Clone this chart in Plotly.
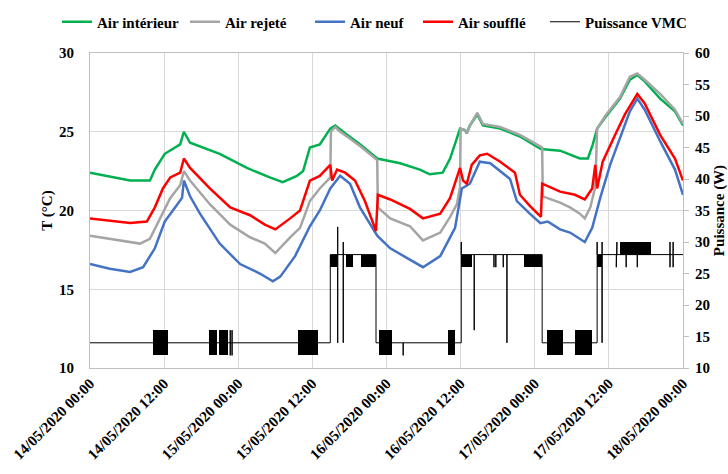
import pandas as pd
import plotly.graph_objects as go

START = pd.Timestamp("2020-05-14 00:00")

# ---------------- data (hours since 14/05/2020 00:00) ----------------
green_h = [0, 6.5, 9.7, 10.5, 12.1, 14.6, 15.2, 16.2, 21.0, 25.4, 29.1, 31.2, 33.5, 34.5, 35.6, 37.2, 38.9,
           39.7, 41.3, 43.7, 46.5, 50.2, 53.4, 55.0, 57.1, 58.3, 59.4, 59.9, 60.7, 61.0, 61.5, 62.7, 63.6,
           66.4, 69.6, 73.0, 76.1, 79.3, 80.6, 81.4, 82.1, 83.4, 85.8, 87.4, 88.6, 89.8, 92.3, 94.7, 96]
green_t = [22.4, 21.9, 21.9, 22.6, 23.6, 24.2, 25.0, 24.3, 23.6, 22.7, 22.1, 21.8, 22.2, 22.5, 24.0, 24.2, 25.2,
           25.4, 24.9, 24.2, 23.3, 23.0, 22.6, 22.3, 22.4, 23.3, 24.6, 25.2, 25.1, 24.9, 25.4, 26.1, 25.4,
           25.2, 24.7, 23.9, 23.8, 23.3, 23.3, 24.2, 25.2, 25.9, 27.1, 28.3, 28.6, 28.2, 27.1, 26.3, 25.4]

gray_h = [0, 6.5, 8.1, 9.7, 11.3, 13.0, 14.6, 15.2, 16.2, 19.4, 22.7, 25.9, 28.3, 30.0, 32.4, 34.0, 35.6,
          37.2, 38.9, 39.0, 39.7, 40.5, 41.6, 43.7, 46.5, 46.6, 48.6, 51.8, 53.9, 56.7, 58.3, 59.4, 59.9,
          60.0, 60.7, 61.0, 61.5, 62.7, 63.6, 66.4, 69.6, 73.2, 73.3, 76.1, 77.7, 79.3, 80.1, 81.0, 81.8,
          82.1, 83.4, 85.8, 87.4, 88.6, 89.8, 92.3, 94.7, 96]
gray_t = [18.4, 18.0, 17.9, 18.2, 19.5, 20.8, 21.6, 22.5, 21.9, 20.4, 19.1, 18.3, 17.9, 17.3, 18.3, 18.9, 20.6,
          21.4, 22.1, 25.0, 25.3, 25.0, 24.7, 24.1, 23.2, 20.2, 19.5, 19.0, 18.1, 18.6, 19.6, 20.4, 21.5,
          25.2, 25.1, 24.9, 25.4, 26.2, 25.5, 25.3, 24.8, 24.0, 20.9, 20.5, 20.2, 19.8, 19.5, 20.2, 21.5,
          25.2, 26.0, 27.2, 28.5, 28.7, 28.3, 27.4, 26.4, 25.5]

blue_h = [0, 3.2, 6.5, 8.6, 10.5, 12.1, 13.8, 14.9, 15.2, 16.2, 17.8, 21.0, 24.3, 27.5, 29.6, 30.8, 33.2,
          35.6, 37.2, 38.9, 40.5, 42.1, 43.7, 46.5, 48.6, 51.8, 53.9, 56.7, 59.1, 60.2, 61.5, 63.1, 64.8,
          68.0, 69.1, 71.2, 72.9, 74.1, 76.1, 77.7, 79.3, 80.1, 81.3, 82.6, 84.2, 85.8, 87.4, 88.6, 89.8,
          92.3, 94.7, 96]
blue_t = [16.6, 16.3, 16.1, 16.4, 17.6, 19.3, 20.2, 20.8, 21.9, 20.9, 19.8, 17.9, 16.6, 16.0, 15.5, 15.8, 17.1,
          19.0, 20.0, 21.4, 22.2, 21.7, 20.2, 18.4, 17.6, 16.9, 16.4, 17.1, 18.9, 21.4, 21.7, 23.1, 23.0,
          22.0, 20.6, 19.8, 19.2, 19.3, 18.8, 18.6, 18.2, 18.0, 18.9, 20.8, 22.9, 24.6, 26.3, 27.1, 26.4,
          24.4, 22.6, 21.0]

red_h = [0, 6.5, 9.2, 10.5, 11.8, 13.0, 14.6, 15.2, 16.2, 19.4, 22.7, 25.9, 28.3, 30.0, 32.4, 34.0, 35.6,
         37.2, 38.9, 39.2, 40.0, 41.3, 42.9, 44.5, 46.3, 46.6, 48.6, 51.8, 53.9, 56.7, 58.3, 59.9, 60.4,
         61.0, 61.8, 63.1, 64.3, 66.4, 68.8, 69.6, 71.2, 73.0, 73.2, 76.1, 78.5, 80.1, 81.3, 81.8, 82.1,
         83.0, 85.0, 86.6, 88.6, 89.8, 92.3, 94.7, 96]
red_t = [19.5, 19.2, 19.3, 20.2, 21.4, 22.1, 22.4, 23.3, 22.7, 21.4, 20.2, 19.7, 19.1, 18.8, 19.5, 20.0, 21.9,
         22.2, 22.9, 21.9, 22.6, 22.4, 21.9, 20.6, 18.7, 21.0, 20.7, 20.1, 19.5, 19.8, 20.8, 22.7, 21.9,
         21.7, 22.9, 23.5, 23.6, 23.1, 22.4, 21.0, 20.3, 19.6, 21.7, 21.2, 21.0, 20.7, 21.4, 22.9, 21.4,
         23.1, 24.8, 26.1, 27.4, 26.8, 24.8, 23.3, 21.9]

# VMC power: main trace (steps and isolated spikes)
power_h = [0, 22.7, 22.7, 22.7, 22.7, 23.0, 23.0, 23.0, 23.0, 38.9, 38.9,
           40.1, 40.1, 40.1, 40.1, 41.0, 41.0, 41.0, 41.0, 46.3, 46.3,
           50.7, 50.7, 50.7, 60.1, 60.1, 60.1,
           62.2, 62.2, 62.2, 65.4, 65.4, 65.4, 65.7, 65.7, 65.7, 66.9, 66.9, 66.9,
           67.5, 67.5, 67.5, 73.2, 73.2, 82.1, 82.1, 82.1,
           82.9, 82.9, 82.9, 82.9, 85.2, 85.2, 85.2, 85.3, 85.3, 85.3,
           86.8, 86.8, 86.8, 88.6, 88.6, 88.6,
           93.9, 93.9, 93.9, 93.9, 94.4, 94.4, 94.4, 94.4, 96]
power_w = [14, 14, 16, 12, 14, 14, 16, 12, 14, 14, 28,
           28, 32.4, 14, 28, 28, 30, 14, 28, 28, 14,
           14, 12, 14, 14, 30, 28,
           28, 16, 28, 28, 26, 28, 28, 26, 28, 28, 26, 28,
           28, 14, 28, 28, 14, 14, 30, 28,
           28, 30, 14, 28, 28, 26, 28, 28, 30, 28,
           28, 26, 28, 28, 26, 28,
           28, 30, 26, 28, 28, 30, 26, 28, 28]

# VMC power: periods of rapid oscillation (start h, end h, low W, high W)
block_start = [10.2, 19.3, 20.9, 33.6, 38.9, 41.5, 43.9, 46.8, 58.0, 60.1, 70.3, 74.0, 78.5, 82.0, 85.8]
block_end   = [12.6, 20.6, 22.4, 36.9, 40.0, 42.6, 46.3, 48.9, 59.1, 61.8, 73.2, 76.6, 81.3, 82.9, 90.8]
block_low   = [12, 12, 12, 12, 26, 26, 26, 12, 12, 26, 26, 12, 12, 26, 28]
block_high  = [16, 16, 16, 16, 28, 28, 28, 16, 16, 28, 28, 16, 16, 28, 30]

tick_hours = [0, 12, 24, 36, 48, 60, 72, 84, 96]
tick_labels = ["14/05/2020 00:00", "14/05/2020 12:00", "15/05/2020 00:00", "15/05/2020 12:00",
               "16/05/2020 00:00", "16/05/2020 12:00", "17/05/2020 00:00", "17/05/2020 12:00",
               "18/05/2020 00:00"]


def to_time(hours):
    return [START + pd.Timedelta(hours=h) for h in hours]


FONT = "Liberation Serif, Times New Roman, serif"
GRID = "#D9D9D9"
AXIS = "#BFBFBF"
BOLD = dict(family=FONT, size=15, color="black", weight="bold")

fig = go.Figure()

series = [
    ("Air intérieur", green_h, green_t, "#00B050", "legend"),
    ("Air rejeté", gray_h, gray_t, "#A5A5A5", "legend2"),
    ("Air neuf", blue_h, blue_t, "#4472C4", "legend3"),
    ("Air soufflé", red_h, red_t, "#FF0000", "legend4"),
]
for name, hh, tt, col, lg in series:
    fig.add_trace(go.Scatter(x=to_time(hh), y=tt, name=name, mode="lines",
                             line=dict(color=col, width=2.5), legend=lg))

mid = [(a + b) / 2 for a, b in zip(block_start, block_end)]
fig.add_trace(go.Bar(
    x=to_time(mid),
    y=[h - l for l, h in zip(block_low, block_high)],
    base=block_low,
    width=[(b - a) * 3600 * 1000 for a, b in zip(block_start, block_end)],
    marker=dict(color="black", line=dict(width=0)),
    yaxis="y2", showlegend=False, hoverinfo="skip"))

fig.add_trace(go.Scatter(x=to_time(power_h), y=power_w, name="Puissance VMC", mode="lines",
                         line=dict(color="black", width=1), yaxis="y2", legend="legend5"))

legend_px = [57, 185, 310, 418, 545]
legends = {}
for i, px in enumerate(legend_px):
    key = "legend" if i == 0 else f"legend{i + 1}"
    legends[key] = dict(orientation="h", xref="container", yref="container",
                        x=px / 728, y=1 - 22 / 474, xanchor="left", yanchor="middle",
                        font=BOLD, itemwidth=30, bgcolor="rgba(0,0,0,0)")

fig.update_layout(
    width=728, height=474,
    margin=dict(l=90, r=45, t=53, b=106, autoexpand=False),
    paper_bgcolor="white", plot_bgcolor="white",
    font=BOLD,
    showlegend=True,
    xaxis=dict(type="date", range=[START, START + pd.Timedelta(hours=96)],
               tickvals=to_time(tick_hours), ticktext=tick_labels, tickangle=-45,
               showgrid=True, gridcolor=GRID, gridwidth=1,
               showline=True, linecolor=AXIS, linewidth=1, mirror=True,
               ticks="", zeroline=False, tickfont=BOLD, automargin=False),
    yaxis=dict(range=[10, 30], dtick=5, tick0=10,
               showgrid=True, gridcolor=GRID, gridwidth=1,
               showline=True, linecolor=AXIS, linewidth=1,
               ticks="outside", ticklen=12, tickcolor="rgba(0,0,0,0)", zeroline=False,
               tickfont=BOLD, automargin=False,
               title=dict(text="T (°C)", standoff=2, font=BOLD)),
    yaxis2=dict(range=[10, 60], dtick=5, tick0=10, overlaying="y", side="right",
                showgrid=False, showline=True, linecolor=AXIS, linewidth=1,
                ticks="outside", ticklen=5, tickcolor=AXIS, zeroline=False,
                ticklabelstandoff=3,
                tickfont=BOLD, automargin=False,
                title=dict(text="Puissance (W)", standoff=6, font=BOLD)),
    bargap=0,
    **legends,
)

fig.write_html("out.html", config={"displayModeBar": False},
               post_script="document.body.style.margin='0px';")
